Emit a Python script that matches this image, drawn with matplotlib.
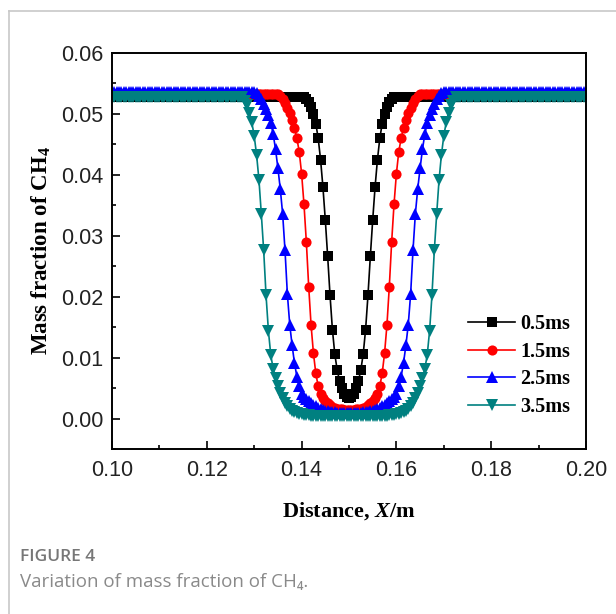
import numpy as np
import matplotlib
matplotlib.use("Agg")
import matplotlib.pyplot as plt
from matplotlib.ticker import MultipleLocator
from matplotlib.lines import Line2D

# grid of the simulation, 0.0005 m spacing
x = np.round(np.arange(0.100, 0.20001, 0.0005), 4)

# half profiles, from the centre (x = 0.15) outwards,
# step 0.0005; the rest of each half is the plateau value
black_half = [0.0034, 0.0036, 0.0041, 0.0050, 0.0062, 0.0080, 0.0106, 0.0146,
              0.0202, 0.0266, 0.0326, 0.0380, 0.0425, 0.0460, 0.0484, 0.0500,
              0.0512, 0.0520, 0.0525, 0.0527, 0.0528]
red_half = [0.0014, 0.0014, 0.0014, 0.0015, 0.0015, 0.0016, 0.0017, 0.0019,
            0.0022, 0.0025, 0.0029, 0.0034, 0.0041, 0.0053, 0.0074, 0.0107,
            0.0153, 0.0216, 0.0290, 0.0352, 0.0402, 0.0438, 0.0460, 0.0477,
            0.0490, 0.0501, 0.0510, 0.0518, 0.0524, 0.0529, 0.0532]
blue_half = [0.0009, 0.0009, 0.0009, 0.0009, 0.0009, 0.0009, 0.0010, 0.0010,
             0.0011, 0.0012, 0.0013, 0.0014, 0.0016, 0.0018, 0.0020, 0.0023,
             0.0026, 0.0029, 0.0032, 0.0036, 0.0041, 0.0053, 0.0069, 0.0091,
             0.0120, 0.0154, 0.0204, 0.0276, 0.0336, 0.0377, 0.0411, 0.0442,
             0.0467, 0.0485, 0.0498, 0.0508, 0.0517, 0.0525, 0.0530, 0.0534,
             0.0536]
teal_half = [0.0004, 0.0004, 0.0004, 0.0004, 0.0004, 0.0004, 0.0004, 0.0004,
             0.0004, 0.0004, 0.0004, 0.0004, 0.0004, 0.0004, 0.0004, 0.0004,
             0.0004, 0.0005, 0.0005, 0.0006, 0.0007, 0.0008, 0.0009, 0.0011,
             0.0013, 0.0016, 0.0020, 0.0026, 0.0033, 0.0042, 0.0053, 0.0066,
             0.0082, 0.0104, 0.0144, 0.0202, 0.0276, 0.0336, 0.0392, 0.0433,
             0.0464, 0.0486, 0.0502, 0.0514, 0.0522, 0.0527]

labels = ["0.5ms", "1.5ms", "2.5ms", "3.5ms"]
colors = ["black", "#ff0000", "#0000ff", "#008080"]
markers = ["s", "o", "^", "v"]
msizes = [6.5, 7.3, 8.2, 8.2]


def full_profile(half):
    # curves are symmetric about x = 0.15
    half = half + [half[-1]] * (101 - len(half))
    return np.array(half[::-1] + half[1:])


series = [full_profile(h) for h in (black_half, red_half, blue_half, teal_half)]

plt.rcParams['mathtext.fontset'] = 'custom'
plt.rcParams['mathtext.rm'] = 'Liberation Serif:bold'
plt.rcParams['mathtext.it'] = 'Liberation Serif:italic:bold'
plt.rcParams['mathtext.bf'] = 'Liberation Serif:bold'

fig = plt.figure(figsize=(6.16, 6.14), dpi=100)

# frame of the page around the figure
fig.add_artist(Line2D([9 / 616, 1.0], [1 - 11 / 614, 1 - 11 / 614],
                      color="#c8c8c8", lw=1.2))
fig.add_artist(Line2D([9 / 616, 9 / 616], [0, 1 - 11 / 614],
                      color="#c8c8c8", lw=1.2))

ax = fig.add_axes([112 / 616, 1 - 449 / 614, 474 / 616, 396 / 614])

for y, c, m, ms, lab in zip(series, colors, markers, msizes, labels):
    ax.plot(x, y, color=c, marker=m, ms=ms, lw=1.2, label=lab,
            markeredgewidth=0)

ax.set_xlim(0.10, 0.20)
ax.set_ylim(-0.005, 0.06)
ax.xaxis.set_minor_locator(MultipleLocator(0.01))
ax.yaxis.set_minor_locator(MultipleLocator(0.005))
xt = np.arange(0.10, 0.201, 0.02)
yt = np.arange(0.0, 0.061, 0.01)
ax.set_xticks(xt)
ax.set_xticklabels([f"{v:.2f}" for v in xt])
ax.set_yticks(yt)
ax.set_yticklabels([f"{v:.2f}" for v in yt])
ax.tick_params(which="both", direction="in", top=False, right=False,
               labelsize=15.5)
ax.tick_params(axis="x", pad=8)
ax.tick_params(axis="y", pad=6)
ax.tick_params(which="major", length=5.5, width=1.2)
ax.tick_params(which="minor", length=3, width=1.2)
for lab in ax.get_xticklabels() + ax.get_yticklabels():
    lab.set_family("Liberation Sans")
    lab.set_color("#222222")
for s in ax.spines.values():
    s.set_linewidth(1.4)

ax.set_xlabel("Distance, $X$/m", fontsize=16, fontweight="bold",
              family="Liberation Serif", labelpad=14)
ax.set_ylabel("Mass fraction of CH$_4$", fontsize=16.5, fontweight="bold",
              family="Liberation Serif", labelpad=6)

leg = ax.legend(loc="upper left", bbox_to_anchor=(468 / 616, 1 - 314 / 614),
                bbox_transform=fig.transFigure, frameon=False,
                prop={"family": "Liberation Serif", "weight": "bold", "size": 14.5},
                handlelength=2.35, handletextpad=0.25, labelspacing=0.38,
                borderpad=0, borderaxespad=0)

fig.text(20 / 616, 1 - 557 / 614, "FIGURE 4", fontsize=12.5, color="#777777",
         family="Open Sans", fontweight="semibold", va="center")
fig.text(20 / 616, 1 - 582 / 614, "Variation of mass fraction of CH\u2084.",
         fontsize=13.5, color="#8a8a8a", family=["Open Sans", "DejaVu Sans"],
         va="center")

fig.savefig("out.png", dpi=100)
